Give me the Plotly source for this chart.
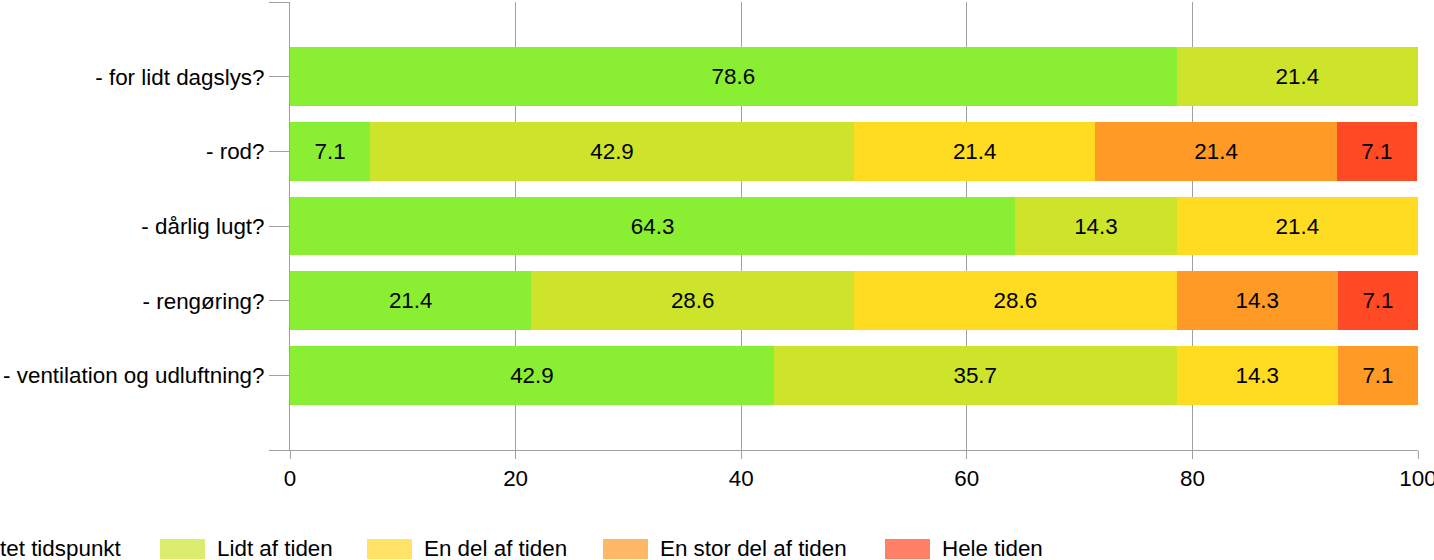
import plotly.graph_objects as go

categories = ["- for lidt dagslys?", "- rod?", "- dårlig lugt?", "- rengøring?", "- ventilation og udluftning?"]
series_names = ["På intet tidspunkt", "Lidt af tiden", "En del af tiden", "En stor del af tiden", "Hele tiden"]
v_intet = [78.6, 7.1, 64.3, 21.4, 42.9]
v_lidt = [21.4, 42.9, 14.3, 28.6, 35.7]
v_endel = [None, 21.4, 21.4, 28.6, 14.3]
v_stor = [None, 21.4, None, 14.3, 7.1]
v_hele = [None, 7.1, None, 7.1, None]
series_values = [v_intet, v_lidt, v_endel, v_stor, v_hele]
x_ticks = [0, 20, 40, 60, 80, 100]

bar_colors = ["#8AEE32", "#CDE42B", "#FFDB22", "#FF9A26", "#FF4A25"]
legend_colors = ["#B9F584", "#DCEC6E", "#FFE266", "#FFB866", "#FF8066"]

FONT = "Arial, Liberation Sans, sans-serif"
FS = 22.4

fig = go.Figure()
ypos = list(range(1, len(categories) + 1))
for name, vals, col in zip(series_names, series_values, bar_colors):
    fig.add_trace(go.Bar(
        y=ypos, x=vals, name=name, orientation="h",
        marker=dict(color=col, line=dict(width=0)),
        width=0.79,
        text=[None if v is None else f"{v:.1f}" for v in vals],
        textposition="inside", insidetextanchor="middle",
        textfont=dict(color="black", size=FS, family=FONT),
        textangle=0, constraintext="none",
        showlegend=False, hoverinfo="x+name",
    ))

# plot area in pixels: x 290..1418, y 2..450
L, R, T, B = 290, 1418, 2, 450
def px_x(p):
    return (p - L) / (R - L)
def px_y(p):
    return (B - p) / (B - T)

shapes = []
annotations = []
# custom legend (swatch 45x20); first item text ends at px 123 (cut at left edge)
swatch_left = [-110, 160, 367, 603, 885]
for i, (name, col) in enumerate(zip(series_names, legend_colors)):
    x0 = swatch_left[i]
    shapes.append(dict(type="rect", xref="paper", yref="paper",
                       x0=px_x(x0), x1=px_x(x0 + 45), y0=px_y(559), y1=px_y(539),
                       fillcolor=col, line=dict(width=0)))
    if i == 0:
        ann_x, anchor = px_x(124), "right"
    else:
        ann_x, anchor = px_x(x0 + 55), "left"
    annotations.append(dict(xref="paper", yref="paper", x=ann_x, y=px_y(548),
                            xanchor=anchor, yanchor="middle", text=name, showarrow=False,
                            font=dict(size=FS, family=FONT, color="black")))

grid_col = "#a0a0a0"
fig.update_layout(
    width=1434, height=560,
    margin=dict(l=L, r=1434 - R, t=T, b=560 - B, autoexpand=False),
    barmode="stack",
    plot_bgcolor="white", paper_bgcolor="white",
    font=dict(family=FONT, size=FS, color="black"),
    shapes=shapes, annotations=annotations,
    xaxis=dict(range=[0, 100], tickvals=x_ticks, ticktext=[str(t) for t in x_ticks],
               showgrid=True, gridcolor=grid_col, gridwidth=1,
               showline=True, linecolor=grid_col, linewidth=1,
               ticks="outside", ticklen=8, tickcolor=grid_col, tickwidth=1,
               ticklabeloverflow="allow",
               zeroline=False, tickfont=dict(size=FS, family=FONT, color="black")),
    yaxis=dict(range=[6, 0], tickvals=[0, 1, 2, 3, 4, 5, 6],
               ticktext=[""] + categories + [""],
               showgrid=False, showline=True, linecolor=grid_col, linewidth=1,
               ticks="outside", ticklen=20, tickcolor=grid_col, tickwidth=1,
               zeroline=False, tickfont=dict(size=FS, family=FONT, color="black")),
)

fig.write_html("out.html", config={"displayModeBar": False},
               post_script="document.body.style.margin='0px';document.body.style.overflow='hidden';")
